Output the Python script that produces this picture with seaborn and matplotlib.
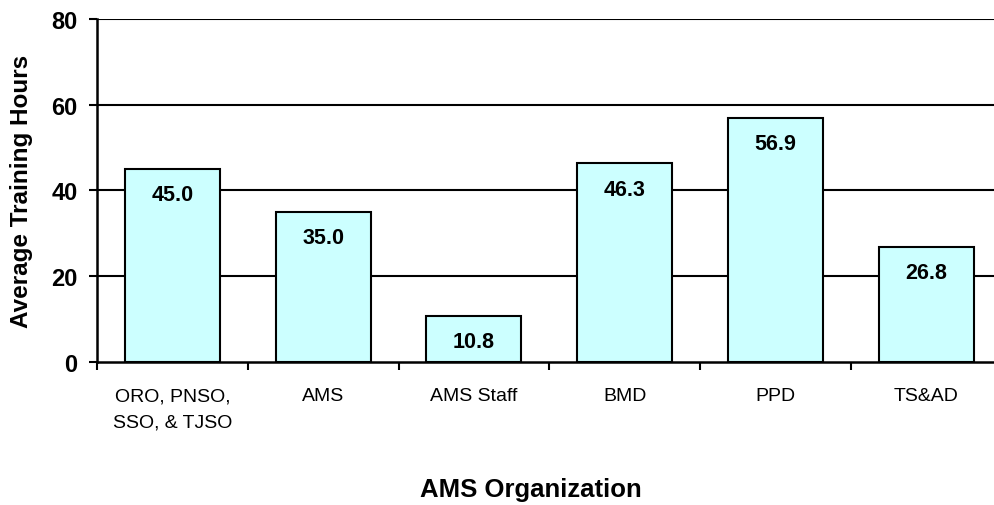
import matplotlib
matplotlib.use("Agg")
import matplotlib.pyplot as plt
import seaborn as sns
import pandas as pd

# date
categorii = ['ORO, PNSO,\nSSO, & TJSO', 'AMS', 'AMS Staff', 'BMD', 'PPD', 'TS&AD']
ore_medii = [45.0, 35.0, 10.8, 46.3, 56.9, 26.8]
y_ticks = [0, 20, 40, 60, 80]

df = pd.DataFrame({'org': categorii, 'ore': ore_medii})

sns.set_theme(style="white")
plt.rcParams['font.family'] = ['Liberation Sans', 'DejaVu Sans']
plt.rcParams['text.color'] = 'black'
plt.rcParams['axes.labelcolor'] = 'black'
plt.rcParams['xtick.color'] = 'black'
plt.rcParams['ytick.color'] = 'black'

fig = plt.figure(figsize=(9.94, 5.06), dpi=100)
# zona graficului iese putin din imagine in dreapta (ca in original)
ax = fig.add_axes([0.0976, 0.2826, 0.91, 0.6779])

sns.barplot(data=df, x='org', y='ore', color='#CCFFFF', saturation=1,
            edgecolor='black', linewidth=1.5, width=0.63, ax=ax, zorder=3)

for i, v in enumerate(ore_medii):
    ax.annotate(f'{v:.1f}', xy=(i, v), xytext=(0, -11), textcoords='offset points',
                ha='center', va='top', fontsize=15.5, fontweight='bold', zorder=4)

ax.set_ylim(0, 80)
ax.set_xlim(-0.5, len(categorii) - 0.5)
ax.set_yticks(y_ticks)
ax.set_yticklabels([str(t) for t in y_ticks], fontsize=17, fontweight='bold')
ax.tick_params(axis='y', direction='out', length=6, width=1.5, left=True, pad=8)
for t in y_ticks[1:]:
    ax.axhline(t, color='black', linewidth=1.5, zorder=1)

# etichete centrate, tick-uri la granita categoriilor
ax.set_xticks(range(len(categorii)))
ax.set_xticklabels(categorii, fontsize=14, linespacing=1.7)
ax.tick_params(axis='x', which='major', length=0, pad=18)
ax.set_xticks([i - 0.5 for i in range(len(categorii) + 1)], minor=True)
ax.tick_params(axis='x', which='minor', direction='out', length=6, width=1.5, bottom=True)

for s in ['top', 'right']:
    ax.spines[s].set_visible(False)
for s in ['left', 'bottom']:
    ax.spines[s].set_color('black')
    ax.spines[s].set_linewidth(1.8)

ax.set_xlabel('AMS Organization', fontsize=18.5, fontweight='bold')
ax.set_ylabel('Average Training Hours', fontsize=17.5, fontweight='bold')
ax.xaxis.label.set_va('center')
ax.yaxis.label.set_va('center')
ax.xaxis.set_label_coords(0.48, -0.37)
ax.yaxis.set_label_coords(-0.084, 0.5)

plt.savefig('out.png', dpi=100)
plt.close()
